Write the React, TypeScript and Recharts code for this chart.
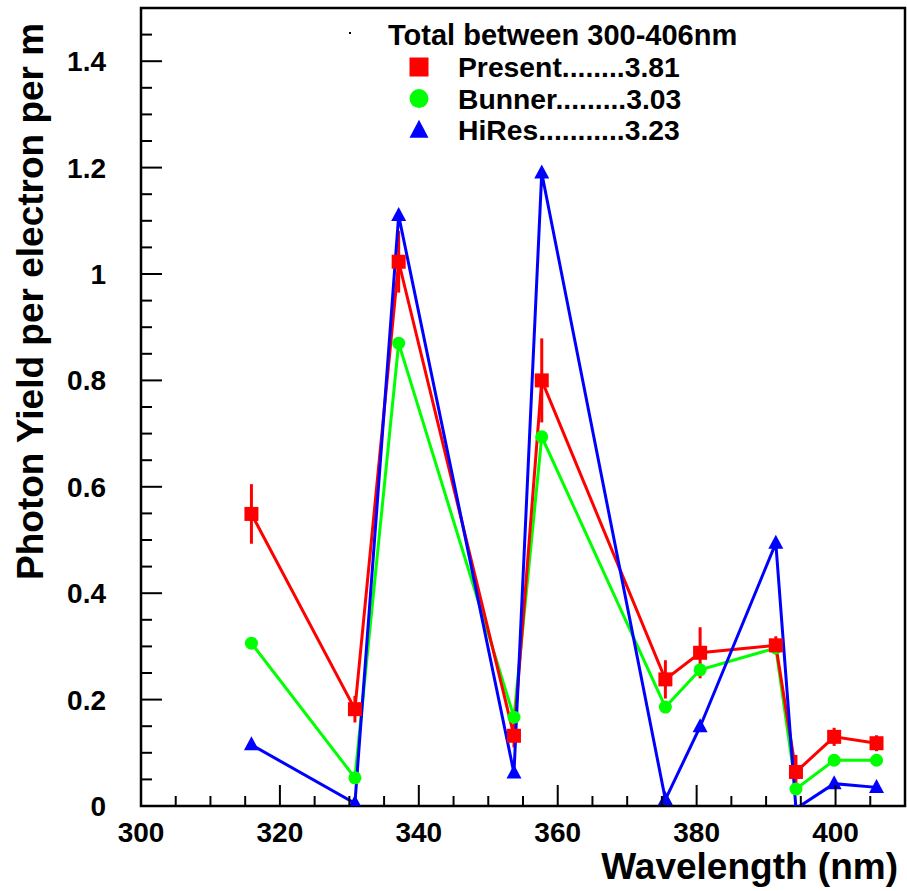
import React from 'react';
import { ComposedChart, Line, XAxis, YAxis, ErrorBar, ReferenceArea, Legend } from 'recharts';

// N2 fluorescence lines (nm) and photon yield per electron per metre
const wavelengths = [315.9, 330.8, 337.1, 353.7, 357.7, 375.5, 380.5, 391.4, 394.3, 399.8, 405.9];
const present = [0.549, 0.182, 1.023, 0.132, 0.8, 0.238, 0.288, 0.302, 0.064, 0.13, 0.118];
const presentErr = [0.056, 0.025, 0.058, 0.022, 0.079, 0.036, 0.048, 0.017, 0.032, 0.017, 0.015];
const bunner = [0.306, 0.053, 0.87, 0.167, 0.694, 0.186, 0.256, 0.297, 0.032, 0.086, 0.086];
const hires = [0.115, 0.005, 1.11, 0.062, 1.19, 0.012, 0.149, 0.494, -0.005, 0.042, 0.035];

const seriesNames = ['Present', 'Bunner', 'HiRes'];
const seriesTotals = [3.81, 3.03, 3.23];
const leaderDots = [8, 9, 11];
const legendHeader = 'Total between 300-406nm';

const xTicks = [300, 305, 310, 315, 320, 325, 330, 335, 340, 345, 350, 355, 360, 365, 370, 375, 380, 385, 390, 395, 400, 405];
const xLabels = [300, 320, 340, 360, 380, 400];
const yTicks = [
  0, 0.05, 0.1, 0.15, 0.2, 0.25, 0.3, 0.35, 0.4, 0.45, 0.5, 0.55, 0.6, 0.65, 0.7, 0.75,
  0.8, 0.85, 0.9, 0.95, 1, 1.05, 1.1, 1.15, 1.2, 1.25, 1.3, 1.35, 1.4, 1.45,
];
const yLabels = [0, 0.2, 0.4, 0.6, 0.8, 1, 1.2, 1.4];

const data = wavelengths.map((wl, i) => ({
  wl,
  present: present[i],
  presentErr: presentErr[i],
  bunner: bunner[i],
  hires: hires[i],
}));

const FONT = '"Liberation Sans", Arial, Helvetica, sans-serif';
const RED = '#ff0000';
const GREEN = '#00ff00';
const BLUE = '#0000ff';

const isMajor = (list: number[], v: number) => list.some((m) => Math.abs(m - v) < 1e-6);

type Shape = 'square' | 'circle' | 'triangle';
const markerShapes: Record<string, Shape> = { Present: 'square', Bunner: 'circle', HiRes: 'triangle' };

const Marker = ({ shape, cx, cy, size, color }: { shape: Shape; cx: number; cy: number; size: number; color: string }) => {
  const h = size / 2;
  if (shape === 'square') return <rect x={cx - h} y={cy - h} width={size} height={size} fill={color} />;
  if (shape === 'circle') return <circle cx={cx} cy={cy} r={h} fill={color} />;
  return <polygon points={`${cx},${cy - h - 1} ${cx - h},${cy + h - 2} ${cx + h},${cy + h - 2}`} fill={color} />;
};

// markers below the frame are skipped, like ROOT does
const makeDot = (shape: Shape, color: string, size: number) => (props: any) => {
  const { cx, cy, value, index } = props;
  if (cx == null || cy == null || value == null || value < 0) return <g key={`d-${shape}-${index}`} />;
  return (
    <g key={`d-${shape}-${index}`}>
      <Marker shape={shape} cx={cx} cy={cy} size={size} color={color} />
    </g>
  );
};

const XTick = (props: any) => {
  const { x, y, payload } = props;
  const major = isMajor(xLabels, payload.value);
  return (
    <g>
      <line x1={x} y1={y} x2={x} y2={y - (major ? 21 : 10)} stroke="#000" strokeWidth={2} />
      {major && (
        <text x={x} y={y + 36} textAnchor="middle" fontFamily={FONT} fontWeight="bold" fontSize={28} fill="#000">
          {payload.value}
        </text>
      )}
    </g>
  );
};

const YTick = (props: any) => {
  const { x, y, payload } = props;
  const major = isMajor(yLabels, payload.value);
  return (
    <g>
      <line x1={x} y1={y} x2={x + (major ? 21 : 11)} y2={y} stroke="#000" strokeWidth={2} />
      {major && (
        <text x={x - 35} y={y + 10} textAnchor="end" fontFamily={FONT} fontWeight="bold" fontSize={28} fill="#000">
          {payload.value}
        </text>
      )}
    </g>
  );
};

const LegendBox = (props: any) => {
  const payload: any[] = props.payload || [];
  return (
    <svg width={420} height={150} style={{ display: 'block' }}>
      <rect x={9} y={32} width={2} height={2} fill="#000" />
      <text x={48} y={45} fontFamily={FONT} fontWeight="bold" fontSize={29} fill="#000">
        {legendHeader}
      </text>
      {seriesNames.map((name, i) => {
        const entry = payload.find((p) => p.value === name);
        const color = entry ? entry.color : '#000';
        const base = 77 + i * 31.6;
        return (
          <g key={name}>
            <Marker shape={markerShapes[name]} cx={79} cy={base - 10} size={19} color={color} />
            <text x={118} y={base} fontFamily={FONT} fontWeight="bold" fontSize={28.3} fill="#000">
              {name + '.'.repeat(leaderDots[i]) + seriesTotals[i].toFixed(2)}
            </text>
          </g>
        );
      })}
    </svg>
  );
};

export default function App() {
  return (
    <div style={{ position: 'absolute', left: 0, top: 0, width: 907, height: 891, background: '#fff' }}>
      <ComposedChart width={907} height={891} data={data} margin={{ top: 8, right: 2, bottom: 55, left: 81 }}>
        <XAxis
          dataKey="wl"
          type="number"
          domain={[300, 410]}
          ticks={xTicks}
          interval={0}
          height={30}
          axisLine={false}
          tickLine={false}
          tickSize={0}
          tickMargin={0}
          tick={<XTick />}
          allowDataOverflow
          label={() => (
            <text x={898} y={879} textAnchor="end" fontFamily={FONT} fontWeight="bold" fontSize={37} fill="#000">
              Wavelength (nm)
            </text>
          )}
        />
        <YAxis
          type="number"
          domain={[0, 1.5]}
          ticks={yTicks}
          interval={0}
          width={60}
          axisLine={false}
          tickLine={false}
          tickSize={0}
          tickMargin={0}
          tick={<YTick />}
          allowDataOverflow
          label={() => (
            <text
              x={43}
              y={580}
              transform="rotate(-90 43 580)"
              textAnchor="start"
              fontFamily={FONT}
              fontWeight="bold"
              fontSize={37}
              fill="#000"
            >
              Photon Yield per electron per m
            </text>
          )}
        />
        <Legend
          layout="horizontal"
          verticalAlign="middle"
          align="center"
          wrapperStyle={{ left: 340, top: 0, width: 420, height: 150 }}
          content={<LegendBox />}
        />
        <Line
          name="Bunner"
          dataKey="bunner"
          type="linear"
          stroke={GREEN}
          strokeWidth={3}
          dot={makeDot('circle', GREEN, 13)}
          activeDot={false}
          isAnimationActive={false}
        />
        <Line
          name="Present"
          dataKey="present"
          type="linear"
          stroke={RED}
          strokeWidth={3}
          dot={makeDot('square', RED, 14)}
          activeDot={false}
          isAnimationActive={false}
        >
          <ErrorBar dataKey="presentErr" direction="y" width={0} stroke={RED} strokeWidth={3} isAnimationActive={false} />
        </Line>
        <Line
          name="HiRes"
          dataKey="hires"
          type="linear"
          stroke={BLUE}
          strokeWidth={3}
          dot={makeDot('triangle', BLUE, 15)}
          activeDot={false}
          isAnimationActive={false}
        />
        <ReferenceArea x1={300} x2={410} y1={0} y2={1.5} fill="none" stroke="#000" strokeWidth={2.5} ifOverflow="visible" />
      </ComposedChart>
    </div>
  );
}
